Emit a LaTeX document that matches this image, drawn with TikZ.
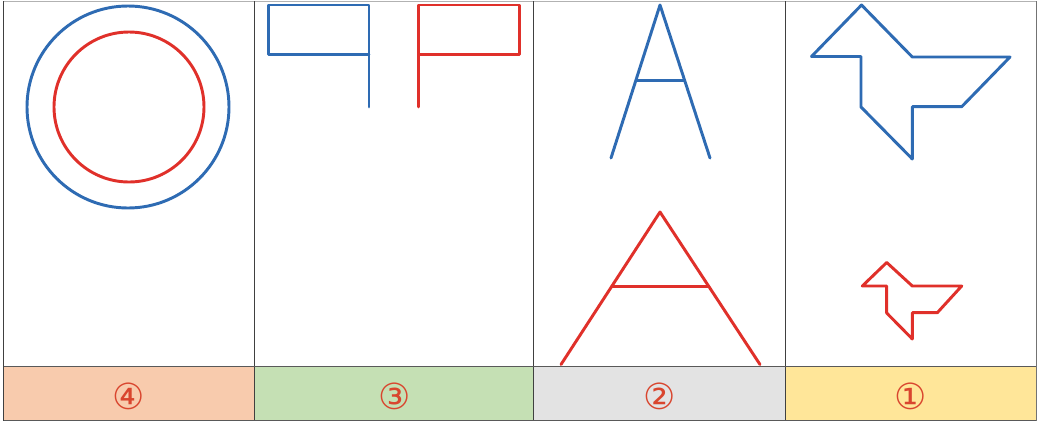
\documentclass[tikz,border=0pt]{standalone}
\usepackage{fontspec}
\newfontfamily\symfont{DejaVu Sans}
\definecolor{lblue}{HTML}{2E6BB3}
\definecolor{lred}{HTML}{E0302A}
\definecolor{bandorange}{HTML}{F8CBAD}
\definecolor{bandgreen}{HTML}{C5E0B4}
\definecolor{bandgray}{HTML}{E3E3E3}
\definecolor{bandyellow}{HTML}{FFE699}
\definecolor{numred}{HTML}{D9452E}
\tikzset{
  bl/.style={draw=lblue,line width=2.2pt,line join=round,line cap=round},
  rd/.style={draw=lred,line width=2.2pt,line join=round,line cap=round},
  band/.style={draw=gray!70!black,line width=0.9pt},
  sep/.style={draw=black!75,line width=0.6pt},
  num/.style={text=numred,font=\symfont\fontsize{27}{27}\selectfont,inner sep=0pt}
}
\begin{document}
\begin{tikzpicture}[x=0.75pt,y=-0.75pt]
\useasboundingbox (0,0) rectangle (1038,422);
\fill[white] (0,0) rectangle (1038,422);
% bands
\fill[bandorange] (3.5,366.5) rectangle (254.5,420.5);
\fill[bandgreen] (254.5,366.5) rectangle (533.5,420.5);
\fill[bandgray] (533.5,366.5) rectangle (785.5,420.5);
\fill[bandyellow] (785.5,366.5) rectangle (1036,420.5);
% frame
\draw[draw=black!30,line width=0.8pt] (3.5,1.2) -- (1036,1.2);
\draw[sep] (3.5,1) -- (3.5,420.5);
\draw[sep] (254.5,1) -- (254.5,420.5);
\draw[sep] (533.5,1) -- (533.5,420.5);
\draw[sep] (785.5,1) -- (785.5,420.5);
\draw[sep,draw=black!55] (1036,1) -- (1036,420.5);
\draw[band] (3.5,366.5) -- (1036,366.5);
\draw[band] (3.5,420.5) -- (1036,420.5);
% labels
\node[num] (n4) at (129,396) {④};
\node[num] (n3) at (395,396) {③};
\node[num] (n2) at (660,396) {②};
\node[num] (n1) at (911,396) {①};
% panel 4: circles
\draw[bl] (128,107) circle[radius=101];
\draw[rd] (129,107) circle[radius=75];
% panel 3: flags
\draw[bl] (369,107) -- (369,5) -- (268.5,5) -- (268.5,54.5) -- (369,54.5);
\draw[rd] (418.5,107) -- (418.5,5) -- (519.5,5) -- (519.5,54.5) -- (418.5,54.5);
% panel 2: A shapes
\draw[bl] (611,158) -- (660,5) -- (710,158);
\draw[bl] (636.5,80.5) -- (684,80.5);
\draw[rd] (561,364.5) -- (660,212) -- (760,364.5);
\draw[rd] (611.5,286.5) -- (709,286.5);
% panel 1: pinwheels
\draw[bl] (861.5,5) -- (811.5,56.5) -- (861,56.5) -- (861,107) -- (912.3,159) -- (912.3,106.7) -- (961.7,106.7) -- (1010,57) -- (912.3,57) -- cycle;
\draw[rd] (886.7,262.5) -- (862.3,286) -- (886.7,286) -- (886.7,313) -- (912.3,339) -- (912.3,312.7) -- (937.3,312.7) -- (961.7,286) -- (912.3,286) -- cycle;
\end{tikzpicture}
\end{document}
